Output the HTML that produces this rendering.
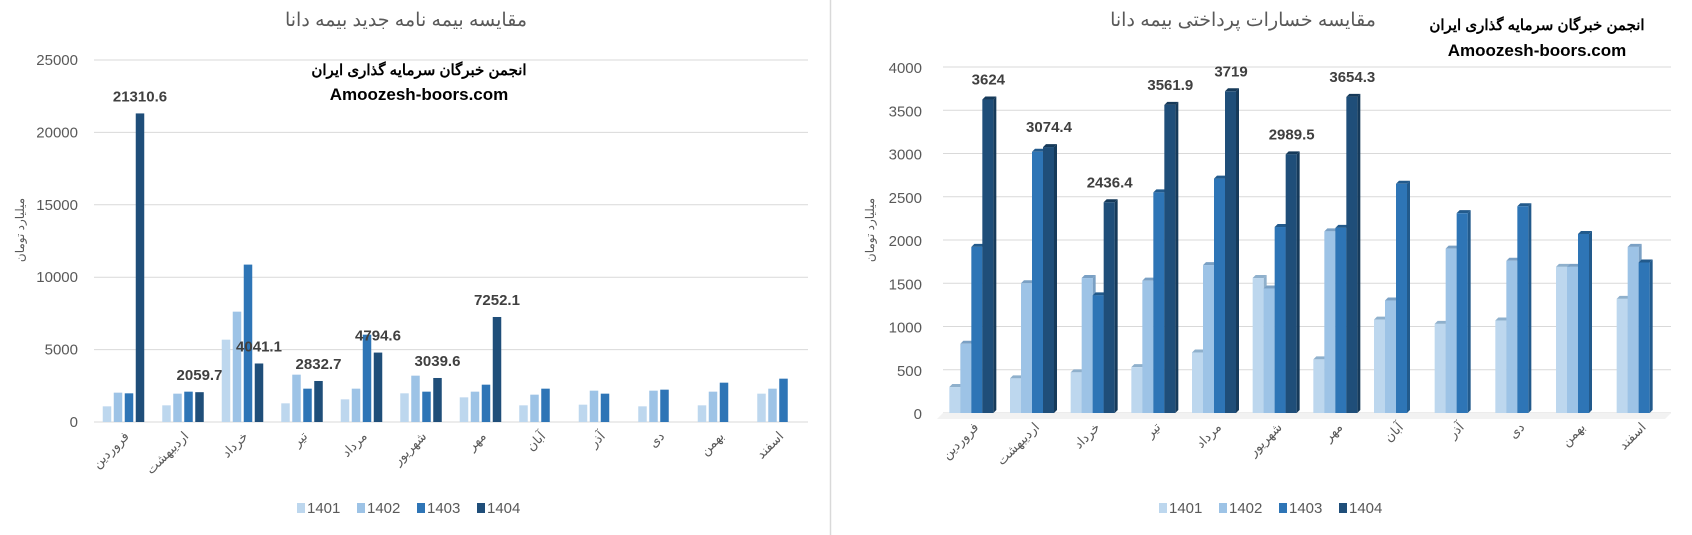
<!DOCTYPE html>
<html><head><meta charset="utf-8"><style>
html,body{margin:0;padding:0;background:#fff;}
svg{display:block;font-family:"Liberation Sans Narrow","Liberation Sans","Noto Sans CJK SC",sans-serif;}
</style></head><body>
<svg id="s" width="1692" height="535" viewBox="0 0 1692 535" xmlns="http://www.w3.org/2000/svg"></svg>
<script>
const S=document.getElementById('s');let h='';
const C=['#bdd7ee','#9dc3e6','#2e75b6','#1f4e79'];
const D=['#8fb0cc','#7aa0c4','#225a8c','#163a5a'];
const M=['فروردین','اردیبهشت','خرداد','تیر','مرداد','شهریور','مهر','آبان','آذر','دی','بهمن','اسفند'];
function t(x,y,s,o){h+=`<text x="${x}" y="${y}" ${o||''}>${s}</text>`;}
h+='<rect x="0" y="0" width="1692" height="535" fill="#fff"/>';
h+='<line x1="830.5" y1="0" x2="830.5" y2="535" stroke="#d9d9d9" stroke-width="1.5"/>';
// LEFT
{const y0=422,k=362/25000,x0=94,x1=808,cw=(x1-x0)/12;
for(let v=0;v<=25000;v+=5000){const y=y0-v*k;h+=`<line x1="${x0}" y1="${y}" x2="${x1}" y2="${y}" stroke="#d9d9d9"/>`;t(78,y+5,v,'font-size="15" fill="#595959" text-anchor="end"');}
const d=[[1082,2026,1980,21310.6],[1151,1957,2095,2059.7],[5686,7620,10870,4041.1],[1289,3269,2302,2832.7],[1565,2302,6031,4794.6],[1980,3200,2095,3039.6],[1703,2095,2578,7252.1],[1151,1888,2302],[1197,2164,1957],[1082,2164,2233],[1151,2095,2716],[1957,2302,2993]];
d.forEach((g,i)=>{const c=x0+cw*(i+.5);g.forEach((v,j)=>{const bx=c-21+j*11,bh=v*k;h+=`<rect x="${bx}" y="${y0-bh}" width="8.5" height="${bh}" fill="${C[j]}"/>`;});
if(g[3]){const bx=c-21+33+4.25;t(bx,y0-g[3]*k-12,g[3],'font-size="15" font-weight="bold" fill="#404040" text-anchor="middle"');}
h+=`<text transform="translate(${c+6},${y0+15}) rotate(-45)" font-size="13" fill="#595959" text-anchor="end" font-family="Noto Sans CJK SC,sans-serif">${M[i]}</text>`;});
t(406,26,'مقایسه بیمه نامه جدید بیمه دانا','font-size="19" fill="#595959" text-anchor="middle"');
t(419,75,'انجمن خبرگان سرمایه گذاری ایران','font-size="15" font-weight="bold" fill="#000" text-anchor="middle"');
t(419,100,'Amoozesh-boors.com','font-size="17" font-weight="bold" fill="#000" text-anchor="middle"');
h+=`<text transform="translate(24,230) rotate(-90)" font-size="12" fill="#595959" text-anchor="middle">میلیارد تومان</text>`;
[297,357,417,477].forEach((x,j)=>{h+=`<rect x="${x}" y="503" width="8" height="10" fill="${C[j]}"/>`;t(x+10,513,1401+j,'font-size="15" fill="#595959"');});
}
// RIGHT
{const y0=413,k=346/4000,x0=943,x1=1671,cw=(x1-x0)/12;
for(let v=0;v<=4000;v+=500){const y=y0-v*k;h+=`<line x1="${x0}" y1="${y}" x2="${x1}" y2="${y}" stroke="#d9d9d9"/>`;t(922,y+6,v,'font-size="15" fill="#595959" text-anchor="end"');}
h+=`<polygon points="${x0-6},${y0+6} ${x0},${y0} ${x1},${y0} ${x1-6},${y0+6}" fill="#f2f2f2"/>`;
const d=[[300,800,1920,3624],[400,1500,3020,3074.4],[470,1560,1360,2436.4],[530,1530,2550,3561.9],[700,1710,2710,3719],[1560,1440,2150,2989.5],[620,2100,2140,3654.3],[1080,1300,2650],[1030,1900,2310],[1070,1760,2390],[1690,1690,2070],[1320,1920,1740]];
d.forEach((g,i)=>{const c=x0+cw*(i+.5);g.forEach((v,j)=>{const bx=c-24+j*11,bh=v*k,w=11,dd=3,yt=y0-bh;
h+=`<polygon points="${bx+w},${yt} ${bx+w+dd},${yt-dd} ${bx+w+dd},${y0-dd} ${bx+w},${y0}" fill="${D[j]}"/>`;
h+=`<polygon points="${bx},${yt} ${bx+dd},${yt-dd} ${bx+w+dd},${yt-dd} ${bx+w},${yt}" fill="${D[j]}"/>`;
h+=`<rect x="${bx}" y="${yt}" width="${w}" height="${bh}" fill="${C[j]}"/>`;});
if(g[3]){t(c-24+33+6,y0-g[3]*k-15,g[3],'font-size="15" font-weight="bold" fill="#404040" text-anchor="middle"');}
h+=`<text transform="translate(${c+6},${y0+15}) rotate(-45)" font-size="13" fill="#595959" text-anchor="end" font-family="Noto Sans CJK SC,sans-serif">${M[i]}</text>`;});
t(1243,26,'مقایسه خسارات پرداختی بیمه دانا','font-size="19" fill="#595959" text-anchor="middle"');
t(1537,30,'انجمن خبرگان سرمایه گذاری ایران','font-size="15" font-weight="bold" fill="#000" text-anchor="middle"');
t(1537,56,'Amoozesh-boors.com','font-size="17" font-weight="bold" fill="#000" text-anchor="middle"');
h+=`<text transform="translate(874,230) rotate(-90)" font-size="12" fill="#595959" text-anchor="middle">میلیارد تومان</text>`;
[1159,1219,1279,1339].forEach((x,j)=>{h+=`<rect x="${x}" y="503" width="8" height="10" fill="${C[j]}"/>`;t(x+10,513,1401+j,'font-size="15" fill="#595959"');});
}
S.innerHTML=h;
</script>
</body></html>
